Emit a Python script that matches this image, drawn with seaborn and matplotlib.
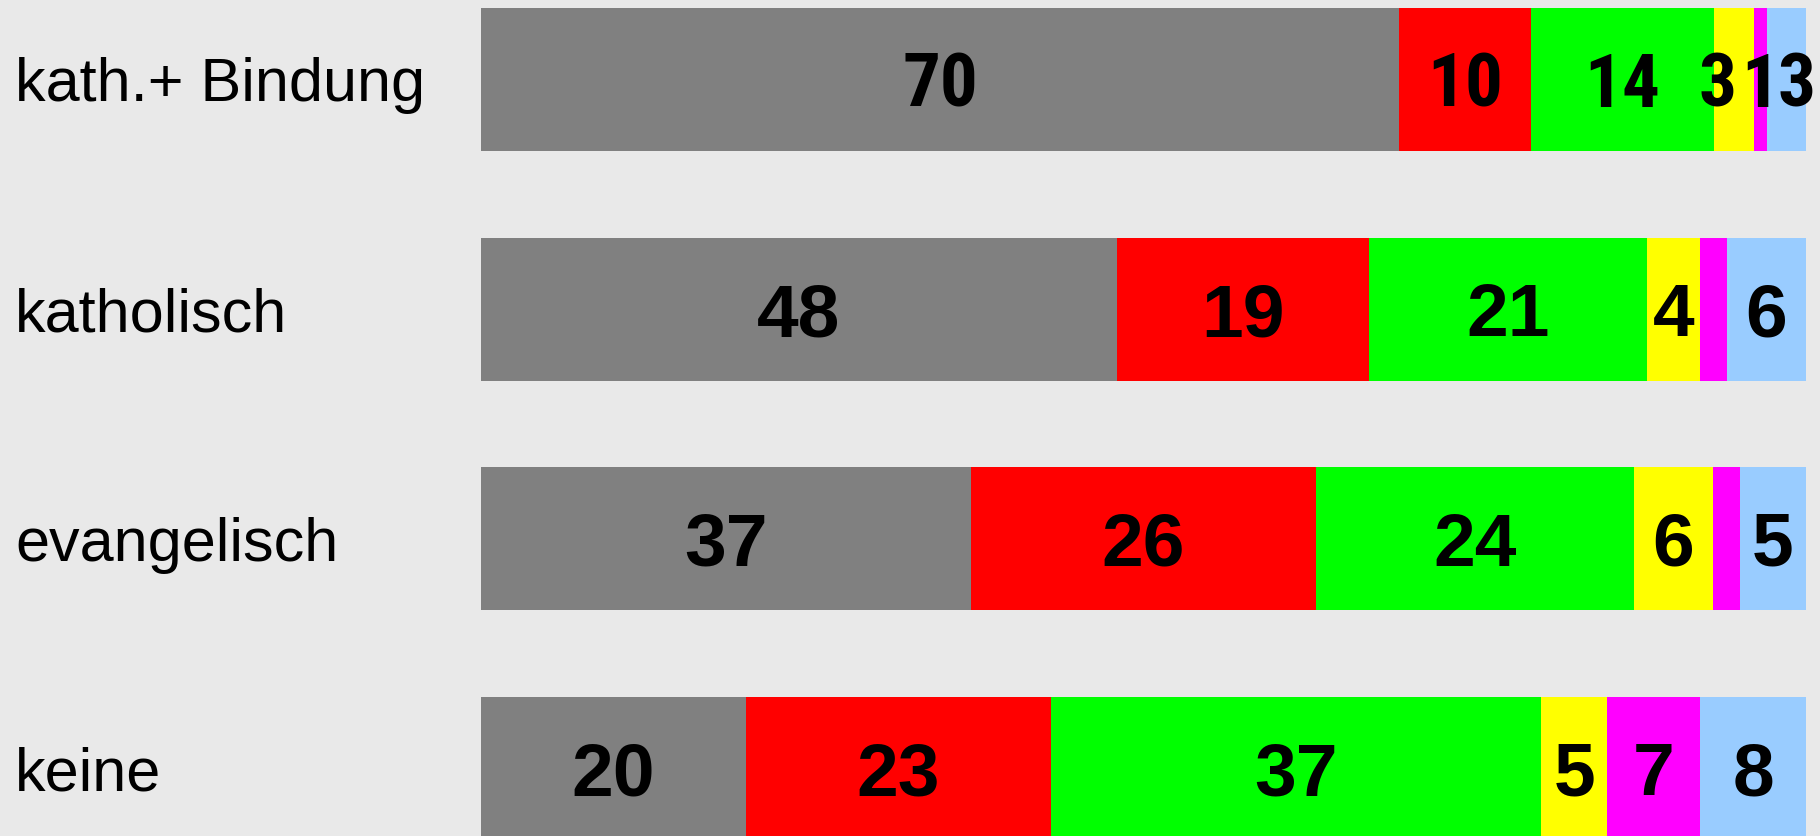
import matplotlib
matplotlib.use("Agg")
import matplotlib.pyplot as plt
from matplotlib import font_manager as fm
import seaborn as sns
import numpy as np
import pandas as pd

# ---- data ----
groups = ["kath.+ Bindung", "katholisch", "evangelisch", "keine"]
grau = [70, 48, 37, 20]
rot = [10, 19, 26, 23]
gruen = [14, 21, 24, 37]
gelb = [3, 4, 6, 5]
magenta = [1, 2, 2, 7]
hellblau = [3, 6, 5, 8]
# which values are printed (magenta 2 % in rows 2/3 unlabeled)
labels = [
    ["70", "10", "14", "3", "1", "3"],
    ["48", "19", "21", "4", "", "6"],
    ["37", "26", "24", "6", "", "5"],
    ["20", "23", "37", "5", "7", "8"],
]
series = [grau, rot, gruen, gelb, magenta, hellblau]
colors = ["#808080", "#ff0000", "#00ff00", "#ffff00", "#ff00ff", "#99ccff"]

df = pd.DataFrame(np.array(series).T, index=groups)
pct = df.div(df.sum(axis=1), axis=0) * 100

sns.set_theme(style="white")
plt.rcParams["font.family"] = ["Liberation Sans", "DejaVu Sans"]
plt.rcParams["text.color"] = "black"


def find_narrow_bold():
    prefs = ["Liberation Sans Narrow", "Arial Narrow", "Roboto Condensed",
             "Open Sans Condensed", "Noto Sans Condensed", "DejaVu Sans Condensed"]
    fl = fm.fontManager.ttflist
    for p in prefs:
        for f in fl:
            if f.name == p and (f.weight in ("bold", 700, "heavy") or
                                (isinstance(f.weight, int) and f.weight >= 600)) \
                    and f.style == "normal":
                return fm.FontProperties(fname=f.fname)
    for f in fl:
        nm = f.fname.lower()
        if ("condensed" in nm or "narrow" in nm) and "bold" in nm and "italic" not in nm \
                and "oblique" not in nm and "semi" not in nm and "extra" not in nm:
            return fm.FontProperties(fname=f.fname)
    return None


narrow = find_narrow_bold()

BG = "#e9e9e9"
fig = plt.figure(figsize=(18.2, 8.36), dpi=100, facecolor=BG)
ax = fig.add_axes([481 / 1820, 0, 1325 / 1820, 1])
ax.set_facecolor(BG)

# small horizontal nudges (points) for crowded labels in first row
nudge_row0 = [0, 0, 0, -12, 0, 7]

left = np.zeros(len(groups))
for i, col in enumerate(colors):
    vals = pct[i].values
    sns.barplot(x=vals, y=groups, orient="h", color=col, width=0.623,
                left=left.copy(), errorbar=None, saturation=1,
                linewidth=0, ax=ax)
    cont = ax.containers[-1]
    for j, bar in enumerate(cont):
        txt = labels[j][i]
        if not txt:
            continue
        kw = dict(ha="center", va="center_baseline", color="black")
        dx = 0
        if j == 0:
            dx = nudge_row0[i]
            if narrow is not None:
                fp = narrow.copy()
                fp.set_size(54)
                kw["fontproperties"] = fp
            else:
                kw.update(fontsize=44, fontweight="bold", family=["Liberation Sans"])
        else:
            kw.update(fontsize=54, fontweight="bold", family=["Liberation Sans"])
        ax.annotate(txt, xy=(bar.get_x() + bar.get_width() / 2,
                             bar.get_y() + bar.get_height() / 2),
                    xytext=(dx, 0), textcoords="offset points", **kw)
    left = left + vals

ax.set_xlim(0, 100)
ax.set_ylim(3.294, -0.346)
ax.set_xlabel("")
ax.set_ylabel("")
ax.set_xticks([])
ax.set_yticks(range(len(groups)))
ax.set_yticklabels(groups, fontsize=44, ha="left", va="center_baseline", color="black")
ax.tick_params(axis="y", length=0, pad=466 * 0.72)
for s in ax.spines.values():
    s.set_visible(False)

fig.savefig("out.png", dpi=100, facecolor=BG)
